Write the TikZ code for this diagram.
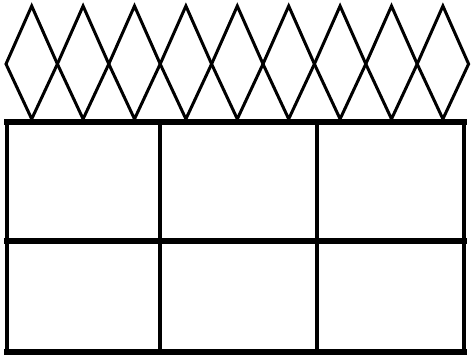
\documentclass[tikz,border=0pt]{standalone}
\usepackage{tikz}
\usetikzlibrary{calc}
\tikzset{
    fenceline/.style={draw=black,line width=3pt,line join=miter},
    hbar/.style={draw=black,line width=6pt,line cap=rect},
    vbar/.style={draw=black,line width=4pt}
}

\begin{document}
\begin{tikzpicture}[x=1pt,y=-1pt]
    \useasboundingbox (0,0) rectangle (471,361);
    % diamond row
    \foreach \k in {0,...,8} {
        \pgfmathsetmacro{\cx}{6+51.4*(\k+0.5)}
        \draw[fenceline] (\cx-25.7,64) -- (\cx,6) -- (\cx+25.7,64) -- (\cx,119) -- cycle;
    }
    % grid
    \coordinate (tl) at (7,122);
    \coordinate (tr) at (464,122);
    \coordinate (bl) at (7,352);
    \coordinate (br) at (464,352);
    \draw[vbar] (tl) -- (bl);
    \draw[vbar] (tr) -- (br);
    \draw[vbar] (160,122) -- (160,352);
    \draw[vbar] (317,122) -- (317,352);
    \draw[hbar] (tl) -- (tr);
    \draw[hbar] (7,241) -- (464,241);
    \draw[hbar] (bl) -- (br);
\end{tikzpicture}
\end{document}
